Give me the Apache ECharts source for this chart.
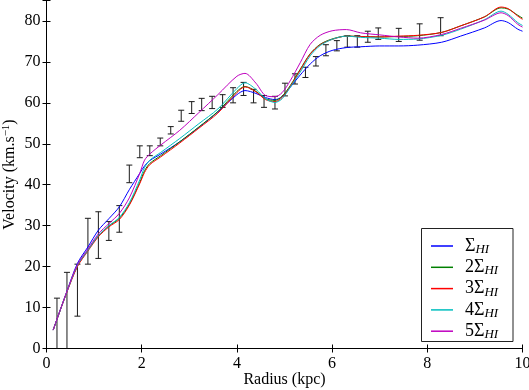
<!DOCTYPE html>
<html>
<head>
<meta charset="utf-8">
<script src="https://cdn.jsdelivr.net/npm/echarts@6/dist/echarts.min.js"></script>
<style>
html,body{margin:0;padding:0;background:#fff;}
#chart{width:529px;height:390px;}
</style>
</head>
<body>
<div id="chart"></div>
<script>
// ---- data ----
var radius = [0.14, 0.43, 0.65, 0.87, 1.09, 1.31, 1.53, 1.74, 1.96, 2.06, 2.17, 2.4, 2.8, 3.2, 3.6, 4.0, 4.17, 4.4, 4.6, 4.8, 4.95, 5.12, 5.33, 5.54, 5.75, 6.0, 6.3, 6.6, 7.0, 7.4, 7.8, 8.3, 8.7, 9.2, 9.55, 9.7, 9.9, 10.0];
var sigma1 = [4.5, 14.0, 20.8, 24.8, 28.9, 31.7, 34.6, 38.8, 42.8, 44.6, 45.9, 47.5, 50.5, 54.0, 57.8, 62.0, 63.0, 62.3, 61.3, 60.8, 61.5, 63.8, 66.8, 69.5, 71.5, 72.8, 73.5, 73.7, 73.9, 73.9, 74.1, 74.8, 76.3, 78.3, 80.1, 79.6, 78.0, 77.5];
var sigma2 = [4.5, 13.9, 20.2, 24.0, 27.5, 29.9, 31.8, 35.2, 40.6, 43.4, 45.2, 47.1, 50.5, 54.1, 57.9, 62.8, 64.0, 62.8, 61.0, 60.6, 61.6, 64.2, 68.2, 72.0, 74.3, 75.6, 76.3, 76.2, 76.1, 76.2, 76.4, 77.2, 78.8, 81.0, 83.2, 82.9, 81.4, 80.7];
var sigma3 = [4.5, 13.8, 20.0, 23.8, 27.3, 29.7, 31.5, 35.0, 40.3, 43.0, 44.9, 46.8, 50.2, 53.8, 57.5, 62.5, 63.9, 62.7, 60.8, 60.3, 61.3, 64.0, 68.0, 71.9, 74.2, 75.5, 76.3, 76.2, 76.1, 76.3, 76.5, 77.2, 78.8, 81.0, 83.4, 83.0, 81.2, 80.4];
var sigma4 = [4.5, 13.9, 20.3, 24.0, 27.6, 30.0, 32.0, 35.6, 41.2, 44.2, 46.0, 47.9, 51.3, 54.9, 58.5, 63.5, 64.9, 63.3, 61.0, 60.1, 61.0, 63.8, 67.5, 71.5, 74.0, 75.5, 76.3, 76.0, 75.8, 75.5, 75.6, 76.5, 78.0, 80.3, 82.4, 81.6, 79.6, 78.9];
var sigma5 = [4.5, 14.0, 20.5, 24.3, 28.0, 30.5, 33.0, 36.8, 42.8, 46.0, 47.5, 49.7, 53.3, 57.6, 62.0, 66.5, 67.2, 64.8, 61.8, 61.5, 62.5, 65.4, 69.8, 74.3, 76.5, 77.6, 77.9, 77.1, 76.6, 76.1, 75.8, 76.7, 78.2, 80.2, 82.0, 81.3, 79.2, 78.5];
var seriesNames = ['ΣHI', '2ΣHI', '3ΣHI', '4ΣHI', '5ΣHI'];

var obsRadius = [0.22, 0.43, 0.65, 0.87, 1.09, 1.31, 1.53, 1.74, 1.96, 2.17, 2.39, 2.61, 2.83, 3.05, 3.26, 3.48, 3.70, 3.92, 4.14, 4.35, 4.57, 4.80, 5.01, 5.22, 5.44, 5.66, 5.87, 6.10, 6.32, 6.53, 6.75, 6.97, 7.40, 7.84, 8.28];
var obsVel = [4.8, 9.0, 14.25, 26.2, 27.7, 28.7, 31.65, 42.65, 48.05, 48.3, 50.45, 53.3, 56.85, 58.85, 59.6, 60.1, 60.45, 61.85, 63.4, 61.65, 60.35, 60.05, 63.25, 65.85, 67.45, 70.15, 72.85, 73.95, 75.0, 75.0, 76.15, 76.9, 76.6, 77.3, 78.6];
var obsErr = [7.5, 9.6, 6.35, 5.6, 5.7, 2.3, 3.25, 2.15, 1.45, 1.2, 0.95, 0.9, 1.35, 1.45, 1.5, 1.5, 1.55, 1.85, 1.6, 1.65, 1.45, 1.55, 1.55, 1.25, 1.25, 1.15, 1.35, 1.25, 1.4, 1.4, 1.35, 1.4, 1.6, 2.0, 2.2];

var xTicks = [0, 2, 4, 6, 8, 10];
var yTicks = [0, 10, 20, 30, 40, 50, 60, 70, 80];

// ---- chart ----
var colors = ['#0000ff', '#008000', '#ff0000', '#00bfbf', '#bf00bf'];
var curves = [sigma1, sigma2, sigma3, sigma4, sigma5];
var FONT = '"Liberation Serif", "DejaVu Serif", serif';

function pairs(xs, ys) { return xs.map(function (x, i) { return [x, ys[i]]; }); }

var lineSeries = curves.map(function (c, i) {
  return {
    name: seriesNames[i],
    type: 'line',
    data: pairs(radius, c),
    smooth: 0.3,
    symbol: 'none',
    lineStyle: { width: 1, color: colors[i] },
    itemStyle: { color: colors[i] },
    z: 3
  };
});

var errData = obsRadius.map(function (r, i) { return [r, obsVel[i], obsErr[i]]; });

var errSeries = {
  type: 'custom',
  name: 'obs',
  data: errData,
  clip: true,
  z: 2,
  encode: { x: 0, y: 1 },
  renderItem: function (params, api) {
    var x = api.value(0), y = api.value(1), e = api.value(2);
    var top = api.coord([x, y + e]);
    var bot = api.coord([x, y - e]);
    var st = { stroke: '#1a1a1a', lineWidth: 1 };
    var cw = 3;
    return {
      type: 'group',
      children: [
        { type: 'line', shape: { x1: top[0], y1: top[1], x2: bot[0], y2: bot[1] }, style: st },
        { type: 'line', shape: { x1: top[0] - cw, y1: top[1], x2: top[0] + cw, y2: top[1] }, style: st },
        { type: 'line', shape: { x1: bot[0] - cw, y1: bot[1], x2: bot[0] + cw, y2: bot[1] }, style: st }
      ]
    };
  }
};

var axisCommon = {
  axisLine: { show: true, lineStyle: { color: '#000', width: 1 } },
  axisTick: { show: true, inside: true, length: 4, lineStyle: { color: '#000' } },
  splitLine: { show: false }
};

var option = {
  animation: false,
  backgroundColor: '#fff',
  grid: { left: 46.5, right: 6.5, top: 0.5, bottom: 41.5, containLabel: false, outerBoundsMode: 'none' },
  graphic: [{
    type: 'rect',
    z: 3.5,
    shape: { x: 421.5, y: 228.5, width: 91.5, height: 113 },
    style: { fill: '#fff', stroke: '#222', lineWidth: 1 }
  }],
  xAxis: [
    Object.assign({
      type: 'value', min: 0, max: 10, interval: 2, position: 'bottom',
      name: 'Radius (kpc)', nameLocation: 'middle', nameGap: 23, nameMoveOverlap: false,
      nameTextStyle: { fontFamily: FONT, fontSize: 16, color: '#000' },
      axisLabel: { fontFamily: FONT, fontSize: 16, color: '#000', margin: 7,
        formatter: function (v) { return xTicks.indexOf(v) >= 0 ? String(v) : ''; } }
    }, axisCommon),
    Object.assign({
      type: 'value', min: 0, max: 10, interval: 2, position: 'top',
      axisLabel: { show: false }
    }, axisCommon)
  ],
  yAxis: [
    Object.assign({
      type: 'value', min: 0, max: 85, interval: 10, position: 'left',
      name: 'Velocity (km.s{sup|−1})', nameLocation: 'middle', nameGap: 27, nameMoveOverlap: false,
      nameTextStyle: { fontFamily: FONT, fontSize: 16, color: '#000',
        rich: { sup: { fontFamily: FONT, fontSize: 11, color: '#000', padding: [0, 0, 8, 0] } } },
      axisLabel: { fontFamily: FONT, fontSize: 16, color: '#000', margin: 6,
        formatter: function (v) { return yTicks.indexOf(v) >= 0 ? String(v) : ''; } }
    }, axisCommon),
    Object.assign({
      type: 'value', min: 0, max: 85, interval: 10, position: 'right',
      axisLabel: { show: false }
    }, axisCommon)
  ],
  legend: {
    orient: 'vertical',
    left: 422, top: 228,
    padding: [9, 8, 7, 9],
    z: 5,
    itemWidth: 22,
    itemHeight: 1.5,
    itemGap: 2.3,
    icon: 'rect',
    data: seriesNames,
    formatter: function (name) {
      var m = name.match(/^(\d?Σ)(HI)$/);
      return '{a|' + m[1] + '}{b|' + m[2] + '}';
    },
    textStyle: {
      fontFamily: FONT, color: '#000', fontSize: 18,
      rich: {
        a: { fontFamily: FONT, fontSize: 18, lineHeight: 18, padding: [0, 0, 0, 7] },
        b: { fontFamily: FONT, fontSize: 13, fontStyle: 'italic', padding: [7, 0, 0, 0] }
      }
    }
  },
  series: [errSeries].concat(lineSeries)
};

var chart = echarts.init(document.getElementById('chart'), null, { renderer: 'canvas' });
chart.setOption(option);
</script>
</body>
</html>
